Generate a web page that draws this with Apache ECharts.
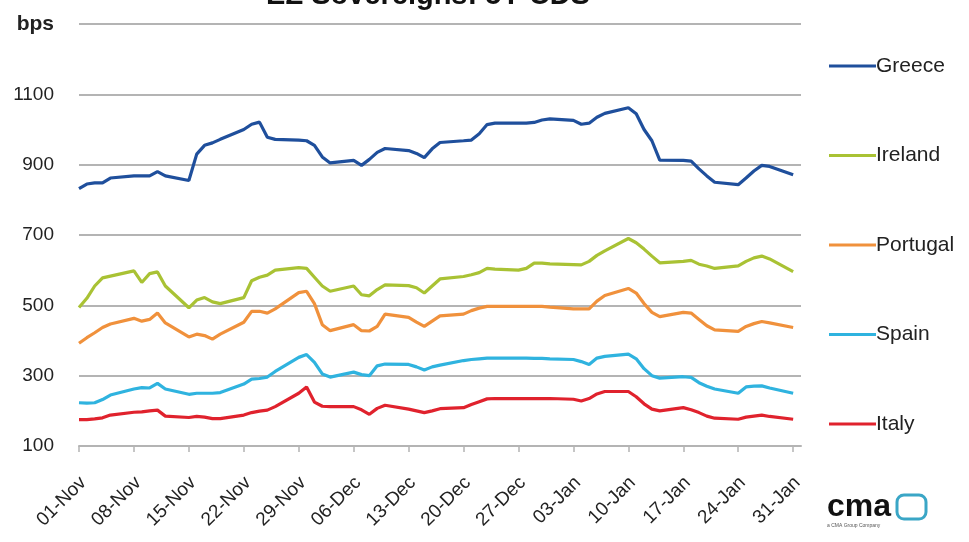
<!DOCTYPE html>
<html>
<head>
<meta charset="utf-8">
<script src="https://cdn.jsdelivr.net/npm/echarts@6/dist/echarts.min.js"></script>
<style>
  html, body { margin: 0; padding: 0; background: #fff; }
  #chart { width: 969px; height: 542px; }
</style>
</head>
<body>
<div id="chart"></div>
<script>
// Weekly tick labels (every Monday, 7 calendar days apart)
const tickLabels = ['01-Nov', '08-Nov', '15-Nov', '22-Nov', '29-Nov', '06-Dec', '13-Dec',
                    '20-Dec', '27-Dec', '03-Jan', '10-Jan', '17-Jan', '24-Jan', '31-Jan'];

// 5Y CDS spreads in bps, one value per trading day (Mon–Fri), 01-Nov to 31-Jan
const greece = [
  832, 845, 848, 848, 862,
  868, 868, 868, 880, 868,
  855, 930, 955, 962, 972,
  1000, 1015, 1021, 978, 972,
  970, 968, 955, 922, 905,
  912, 898, 915, 935, 946,
  940, 932, 920, 945, 963,
  968, 970, 988, 1014, 1018,
  1018, 1018, 1020, 1027, 1030,
  1026, 1015, 1018, 1035, 1046,
  1062, 1045, 1000, 968, 913,
  912, 910, 888, 868, 850,
  843, 862, 882, 898, 895,
  871
];
const ireland = [
  494, 520, 555, 578, 583,
  598, 565, 590, 595, 555,
  493, 515, 522, 510, 505,
  522, 570, 580, 586, 600,
  607, 605, 580, 555, 540,
  555, 530, 527, 545, 558,
  556, 550, 535, 555, 575,
  582, 587, 593, 605, 603,
  600, 605, 620, 620, 618,
  616, 615, 625, 642, 655,
  690, 678, 660, 640, 621,
  625, 628, 617, 612, 605,
  612, 625, 635, 640, 632,
  596
];
const portugal = [
  392, 408, 422, 437, 447,
  463, 455, 460, 478, 450,
  410, 418, 414, 404, 418,
  452, 483, 483, 478, 490,
  536, 540, 505, 445, 428,
  445, 428, 427, 440, 475,
  466, 452, 440, 455, 470,
  475, 485, 492, 497, 497,
  497, 497, 497, 497, 495,
  490, 490, 490, 512, 528,
  548, 535, 505, 480, 468,
  480, 478, 460, 442, 430,
  426, 440, 448, 454, 450,
  437
];
const spain = [
  223, 222, 223, 232, 245,
  262, 266, 265, 278, 262,
  247, 250, 250, 250, 252,
  276, 290, 292, 296, 312,
  352, 360, 338, 305, 296,
  310, 303, 300, 328, 333,
  332, 325, 316, 325, 330,
  343, 346, 348, 350, 350,
  350, 350, 349, 349, 348,
  346, 340, 332, 350, 355,
  361, 348, 320, 300, 293,
  297, 295, 280, 270, 262,
  250, 268, 270, 271, 265,
  250
];
const italy = [
  175, 175, 177, 180, 188,
  196, 197, 200, 202, 185,
  181, 184, 182, 178, 178,
  188, 195, 199, 202, 212,
  250, 268, 225, 213, 212,
  212, 203, 190, 207, 216,
  205, 200, 195, 200, 206,
  209, 218, 226, 234, 235,
  235, 235, 235, 235, 235,
  233, 228, 235, 248, 255,
  255, 240, 220, 205, 200,
  209, 203, 195, 185, 179,
  176, 182, 185, 188, 184,
  176
];

const seriesNames = ['Greece', 'Ireland', 'Portugal', 'Spain', 'Italy'];
const seriesColors = ['#1f4f9c', '#a9c234', '#f0913c', '#2fb3df', '#e0222d'];

// Calendar axis: day 0 = 01-Nov, day 92 = 01-Feb; trading days skip weekends
const totalDays = 93;
const calendarDays = Array.from({ length: totalDays }, (_, i) => i);
const tradingDays = calendarDays.filter(d => d % 7 < 5 && d <= 91);

function toPairs(values) {
  return values.map((v, i) => [tradingDays[i], v]);
}

const FONT = 'Liberation Sans, Arial, sans-serif';
const chart = echarts.init(document.getElementById('chart'), null, { renderer: 'canvas' });
const textColor = '#222';
const gridColor = '#b4b4b4';
const isWeekTick = (idx) => idx % 7 === 0 && idx <= 91;

chart.setOption({
  animation: false,
  backgroundColor: '#ffffff',
  textStyle: { fontFamily: FONT },
  grid: { left: 79, right: 168, top: 24, bottom: 96, containLabel: false },
  legend: {
    orient: 'vertical',
    left: 824,
    top: 49,
    itemWidth: 47,
    itemHeight: 3,
    itemGap: 65.5,
    icon: 'rect',
    data: seriesNames,
    textStyle: { color: textColor, fontSize: 21, lineHeight: 24, padding: [0, 0, 0, -5] }
  },
  xAxis: {
    type: 'category',
    data: calendarDays,
    boundaryGap: false,
    axisLine: { lineStyle: { color: gridColor, width: 2 } },
    axisTick: {
      show: true,
      length: 6,
      interval: isWeekTick,
      lineStyle: { color: gridColor, width: 1.5 }
    },
    axisLabel: {
      interval: isWeekTick,
      rotate: 45,
      margin: 38,
      color: textColor,
      fontSize: 19,
      padding: [0, -6, 0, 0],
      formatter: (v) => tickLabels[v / 7] || ''
    },
    splitLine: { show: false }
  },
  yAxis: {
    type: 'value',
    min: 100,
    max: 1300,
    interval: 200,
    axisLine: { show: false },
    axisTick: { show: false },
    splitLine: { lineStyle: { color: gridColor, width: 2 } },
    axisLabel: {
      margin: 25,
      color: textColor,
      fontSize: 19,
      formatter: (v) => (v === 1300 ? '{u|bps}' : String(v)),
      rich: { u: { fontWeight: 'bold', fontSize: 21, color: textColor } }
    }
  },
  series: [greece, ireland, portugal, spain, italy].map((vals, i) => ({
    name: seriesNames[i],
    type: 'line',
    data: toPairs(vals),
    showSymbol: false,
    symbol: 'none',
    lineStyle: { color: seriesColors[i], width: 3.2 },
    itemStyle: { color: seriesColors[i] }
  })),
  graphic: [
    {
      type: 'text',
      style: {
        text: 'EZ Sovereigns: 5Y CDS',
        x: 428,
        y: -4,
        align: 'center',
        verticalAlign: 'middle',
        fontSize: 29,
        fontWeight: 'bold',
        fontFamily: FONT,
        fill: '#111'
      }
    },
    {
      type: 'group',
      x: 827,
      y: 492,
      children: [
        {
          type: 'text',
          style: {
            text: 'cma', x: 0, y: 15, verticalAlign: 'middle',
            fontSize: 32, fontWeight: 'bold', fill: '#111', fontFamily: FONT
          }
        },
        {
          type: 'rect',
          shape: { x: 70, y: 3, width: 29, height: 24, r: 7 },
          style: { fill: 'none', stroke: '#3aa6c6', lineWidth: 3 }
        },
        {
          type: 'text',
          style: {
            text: 'a CMA Group Company', x: 0, y: 31,
            fontSize: 5, fill: '#555', fontFamily: FONT
          }
        }
      ]
    }
  ]
});
</script>
</body>
</html>
